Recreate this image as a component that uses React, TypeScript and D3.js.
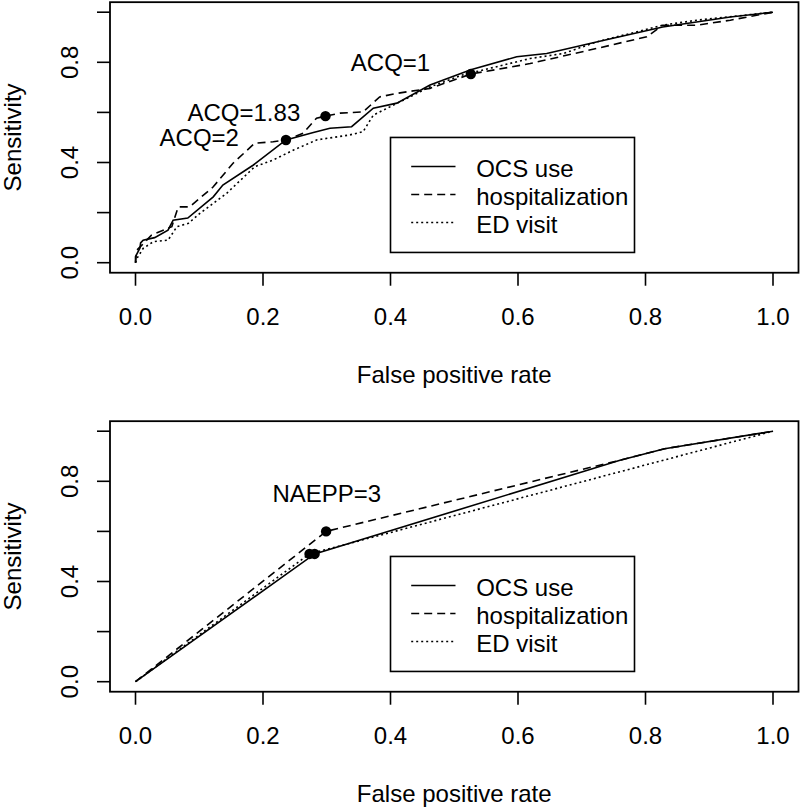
import React from 'react';
import * as d3 from 'd3';

// ROC curves: [false positive rate, sensitivity]
const acqOcs: [number, number][] = [
  [0, 0], [0, 0.024], [0.007, 0.059], [0.008, 0.079], [0.012, 0.09], [0.03, 0.1],
  [0.051, 0.13], [0.059, 0.17], [0.082, 0.178], [0.122, 0.263], [0.137, 0.31],
  [0.185, 0.39], [0.236, 0.49], [0.279, 0.52], [0.305, 0.537], [0.339, 0.543],
  [0.373, 0.617], [0.41, 0.637], [0.462, 0.709], [0.526, 0.77], [0.598, 0.822],
  [0.645, 0.835], [0.723, 0.881], [0.827, 0.941], [0.88, 0.961], [0.933, 0.981], [1, 1],
];
const acqHosp: [number, number][] = [
  [0, 0], [0.002, 0.05], [0.01, 0.07], [0.025, 0.11], [0.057, 0.144], [0.067, 0.223],
  [0.085, 0.223], [0.122, 0.303], [0.153, 0.397], [0.187, 0.477], [0.216, 0.483],
  [0.236, 0.49], [0.263, 0.517], [0.284, 0.577], [0.298, 0.585], [0.321, 0.597],
  [0.357, 0.602], [0.383, 0.662], [0.41, 0.676], [0.462, 0.696], [0.526, 0.753],
  [0.619, 0.795], [0.723, 0.855], [0.802, 0.902], [0.827, 0.948], [0.88, 0.948],
  [0.933, 0.968], [1, 1],
];
const acqEd: [number, number][] = [
  [0, 0], [0.003, 0.02], [0.012, 0.057], [0.028, 0.084], [0.051, 0.09], [0.065, 0.144],
  [0.083, 0.157], [0.101, 0.197], [0.143, 0.277], [0.187, 0.383], [0.216, 0.41],
  [0.248, 0.45], [0.284, 0.49], [0.336, 0.51], [0.357, 0.523], [0.373, 0.589],
  [0.41, 0.636], [0.462, 0.702], [0.514, 0.75], [0.619, 0.815], [0.671, 0.835],
  [0.723, 0.881], [0.827, 0.948], [0.88, 0.968], [1, 1],
];

const naeppOcs: [number, number][] = [[0, 0], [0.281, 0.51], [0.76, 0.884], [0.83, 0.93], [1, 1]];
const naeppHosp: [number, number][] = [[0, 0], [0.299, 0.6], [0.76, 0.884], [0.83, 0.93], [1, 1]];
const naeppEd: [number, number][] = [[0, 0], [0.273, 0.51], [1, 1]];

// cut-off points and their labels
const acqPoints: [number, number][] = [[0.236, 0.49], [0.298, 0.585], [0.526, 0.753]];
const acqLabels = [
  { text: 'ACQ=2', x: 0.1, y: 0.5 },
  { text: 'ACQ=1.83', x: 0.17, y: 0.6 },
  { text: 'ACQ=1', x: 0.4, y: 0.8 },
];
const naeppPoints: [number, number][] = [[0.273, 0.51], [0.281, 0.51], [0.299, 0.6]];
const naeppLabels = [{ text: 'NAEPP=3', x: 0.3, y: 0.75 }];

const legendNames = ['OCS use', 'hospitalization', 'ED visit'];
const dashes = ['none', '8,5', '2,3'];
const xTicks = [0, 0.2, 0.4, 0.6, 0.8, 1];
const yTicks = [0, 0.2, 0.4, 0.6, 0.8, 1];
const yLabelTicks = [0, 0.4, 0.8];

const font = '"Liberation Sans", Arial, sans-serif';
const fs = 24;

function Panel({ off, curves, points, labels }: any) {
  const x = d3.scaleLinear().domain([0, 1]).range([135.5, 773]);
  const y = d3.scaleLinear().domain([0, 1]).range([262.7 + off, 12.2 + off]);
  const line = d3.line<[number, number]>().x(d => x(d[0])).y(d => y(d[1]));
  const left = x(-0.04), right = x(1.04), top = y(1.04), bottom = y(-0.04);
  const lgTop = y(0.5), lgLeft = x(0.4);

  return (
    <g fontFamily={font} fontSize={fs} fill="#000">
      {curves.map((c: [number, number][], i: number) => (
        <path key={i} d={line(c) || ''} fill="none" stroke="#000" strokeWidth={1.6}
          strokeDasharray={dashes[i]} />
      ))}
      {points.map((p: [number, number], i: number) => (
        <circle key={i} cx={x(p[0])} cy={y(p[1])} r={5.2} fill="#000" />
      ))}
      {labels.map((l: any, i: number) => (
        <text key={i} x={x(l.x)} y={y(l.y)} dy="0.35em" textAnchor="middle">{l.text}</text>
      ))}
      <rect x={lgLeft} y={lgTop} width={244} height={115} fill="#fff" stroke="#000" strokeWidth={1.6} />
      {legendNames.map((n, i) => (
        <g key={n}>
          <line x1={lgLeft + 20.7} x2={lgLeft + 65} y1={lgTop + 29 + i * 28}
            y2={lgTop + 29 + i * 28} stroke="#000" strokeWidth={1.6} strokeDasharray={dashes[i]} />
          <text x={lgLeft + 85.7} y={lgTop + 40 + i * 28}>{n}</text>
        </g>
      ))}
      <rect x={left} y={top} width={right - left} height={bottom - top} fill="none" stroke="#000" strokeWidth={1.8} />
      {xTicks.map(t => (
        <g key={t}>
          <line x1={x(t)} x2={x(t)} y1={bottom} y2={bottom + 13} stroke="#000" strokeWidth={1.6} />
          <text x={x(t)} y={off + 325} textAnchor="middle">{t.toFixed(1)}</text>
        </g>
      ))}
      {yTicks.map(t => (
        <line key={t} x1={left} x2={left - 13} y1={y(t)} y2={y(t)} stroke="#000" strokeWidth={1.6} />
      ))}
      {yLabelTicks.map(t => (
        <text key={t} transform={`translate(78,${y(t)}) rotate(-90)`} textAnchor="middle">{t.toFixed(1)}</text>
      ))}
      <text x={(x(0) + x(1)) / 2} y={off + 383} textAnchor="middle">False positive rate</text>
      <text transform={`translate(21,${(top + bottom) / 2}) rotate(-90)`} textAnchor="middle">Sensitivity</text>
    </g>
  );
}

export default function App() {
  return (
    <svg width={800} height={807} style={{ position: 'absolute', left: 0, top: 0, background: '#fff' }}>
      <rect width={800} height={807} fill="#fff" />
      <Panel off={0} curves={[acqOcs, acqHosp, acqEd]} points={acqPoints} labels={acqLabels} />
      <Panel off={419} curves={[naeppOcs, naeppHosp, naeppEd]} points={naeppPoints} labels={naeppLabels} />
    </svg>
  );
}
